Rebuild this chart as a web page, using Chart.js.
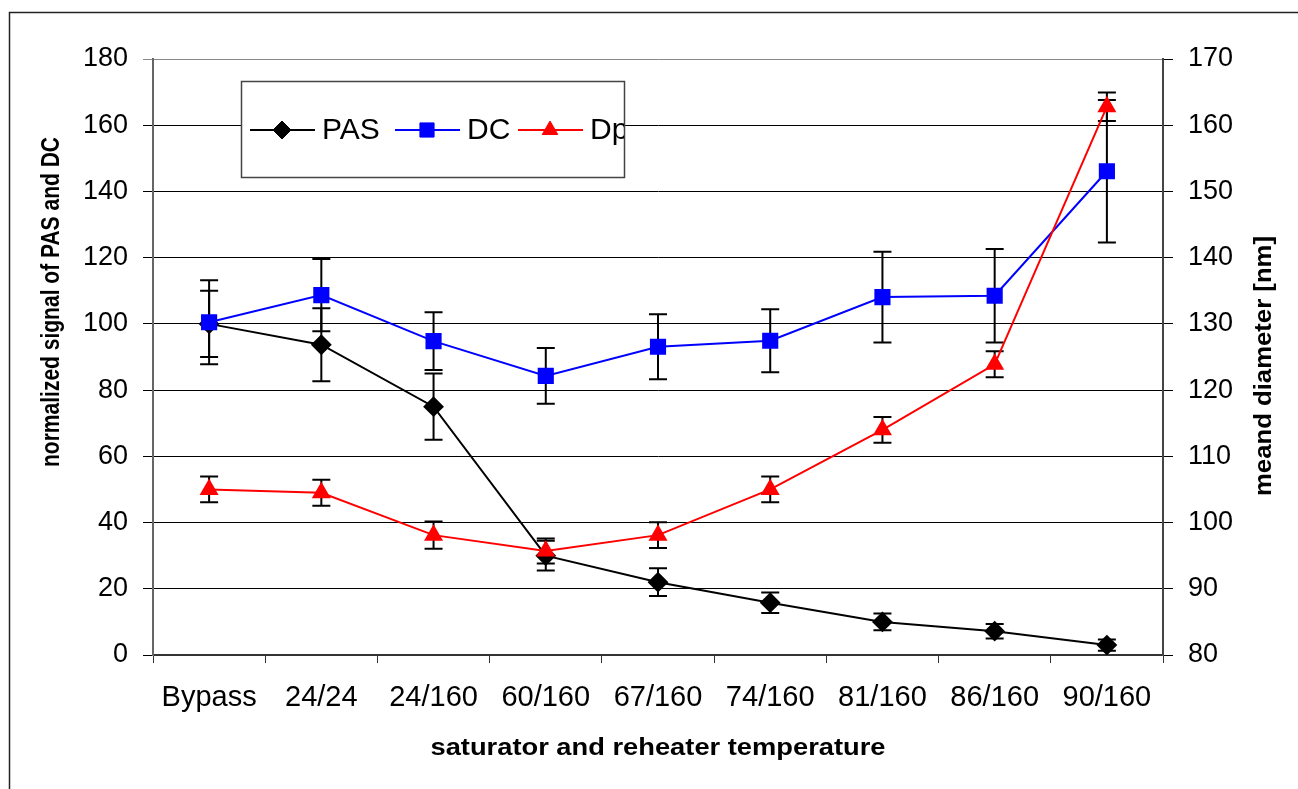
<!DOCTYPE html>
<html>
<head>
<meta charset="utf-8">
<script src="https://cdn.jsdelivr.net/npm/chart.js@4.4.1/dist/chart.umd.min.js"></script>
<style>
  html, body { margin: 0; padding: 0; background: #fff; }
  canvas { display: block; }
</style>
</head>
<body>
<canvas id="chart" width="1298" height="789"></canvas>
<script>
// values
const categories = ['Bypass', '24/24', '24/160', '60/160', '67/160', '74/160', '81/160', '86/160', '90/160'];

const pasValues = [100, 93.7, 75, 30, 22, 15.8, 10, 7.2, 3];
const pasErrors = [10, 11, 10, 4.5, 4.2, 3.1, 2.5, 2.2, 1.7];

const dcValues = [100.5, 108.7, 94.8, 84.3, 93.1, 94.9, 108.1, 108.5, 146.1];
const dcErrors = [12.7, 10.9, 8.7, 8.4, 9.8, 9.5, 13.7, 14.1, 21.5];

const dpValues = [105, 104.5, 98.1, 95.7, 98.1, 105, 114, 123.9, 162.8];
const dpErrors = [1.95, 1.95, 2.05, 1.9, 1.95, 1.95, 1.95, 1.95, 2.15];

const leftTicks = [0, 20, 40, 60, 80, 100, 120, 140, 160, 180];
const rightTicks = [80, 90, 100, 110, 120, 130, 140, 150, 160, 170];

const FONT = "'Liberation Sans', Arial, sans-serif";

// error bars, drawn under the lines and markers
const errorBars = {
    id: 'errorBars',
    beforeDatasetsDraw(chart) {
        const ctx = chart.ctx;
        ctx.save();
        ctx.strokeStyle = '#000';
        ctx.lineWidth = 2;
        chart.data.datasets.forEach((ds, di) => {
            const meta = chart.getDatasetMeta(di);
            const yScale = chart.scales[ds.yAxisID];
            ds.errors.forEach((e, i) => {
                const x = meta.data[i].x;
                const yTop = yScale.getPixelForValue(ds.data[i] + e);
                const yBot = yScale.getPixelForValue(ds.data[i] - e);
                ctx.beginPath();
                ctx.moveTo(x, yTop); ctx.lineTo(x, yBot);
                ctx.moveTo(x - 9, yTop); ctx.lineTo(x + 9, yTop);
                ctx.moveTo(x - 9, yBot); ctx.lineTo(x + 9, yBot);
                ctx.stroke();
            });
        });
        ctx.restore();
    }
};

// text drawn to a given length along its direction
function fitText(ctx, text, x, y, angle, length) {
    ctx.save();
    ctx.translate(x, y);
    ctx.rotate(angle);
    const w = ctx.measureText(text).width;
    ctx.scale(length / w, 1);
    ctx.fillText(text, 0, 0);
    ctx.restore();
}

// frame, legend box and axis titles
const decorations = {
    id: 'decorations',
    beforeDraw(chart) {
        const ctx = chart.ctx;
        ctx.save();
        ctx.fillStyle = '#fff';
        ctx.fillRect(0, 0, chart.width, chart.height);
        ctx.restore();
    },
    afterDraw(chart) {
        const ctx = chart.ctx;
        ctx.save();

        // outer frame
        ctx.strokeStyle = '#222';
        ctx.lineWidth = 1.5;
        ctx.beginPath();
        ctx.moveTo(9.5, chart.height + 2);
        ctx.lineTo(9.5, 12.5);
        ctx.lineTo(chart.width + 2, 12.5);
        ctx.stroke();

        // axis titles
        ctx.fillStyle = '#000';
        ctx.textAlign = 'center';
        ctx.textBaseline = 'middle';
        ctx.font = 'bold 23px ' + FONT;
        fitText(ctx, 'saturator and reheater temperature', 658, 749, 0, 455);
        fitText(ctx, 'meand diameter [nm]', 1265, 366, -Math.PI / 2, 260);
        ctx.font = 'bold 25px ' + FONT;
        fitText(ctx, 'normalized signal of PAS and DC', 52, 302, -Math.PI / 2, 330);

        // legend
        const box = { x: 241, y: 81, w: 383, h: 96 };
        ctx.fillStyle = '#fff';
        ctx.fillRect(box.x, box.y, box.w, box.h);
        ctx.strokeStyle = '#444';
        ctx.lineWidth = 1.5;
        ctx.strokeRect(box.x + 0.5, box.y + 0.5, box.w, box.h);
        ctx.save();
        ctx.beginPath();
        ctx.rect(box.x + 1, box.y + 1, box.w - 1, box.h - 1);
        ctx.clip();
        const cy = 130;
        const starts = [250, 395, 518];
        chart.data.datasets.forEach((ds, k) => {
            const x0 = starts[k];
            ctx.strokeStyle = ds.borderColor;
            ctx.lineWidth = 2;
            ctx.beginPath();
            ctx.moveTo(x0, cy);
            ctx.lineTo(x0 + 65, cy);
            ctx.stroke();
            ctx.fillStyle = ds.pointBackgroundColor;
            ctx.strokeStyle = ds.pointBorderColor;
            ctx.lineWidth = 1;
            Chart.helpers.drawPoint(ctx, { pointStyle: ds.pointStyle, radius: ds.pointRadius, borderWidth: 1 }, x0 + 32, cy);
            ctx.fillStyle = '#000';
            ctx.textAlign = 'left';
            ctx.textBaseline = 'middle';
            ctx.font = '30px ' + FONT;
            ctx.fillText(ds.label, x0 + 72, cy + 1);
        });
        ctx.restore();

        ctx.restore();
    }
};

const chart = new Chart(document.getElementById('chart'), {
    type: 'line',
    data: {
        labels: categories,
        datasets: [
            {
                label: 'PAS', data: pasValues, errors: pasErrors, yAxisID: 'y',
                borderColor: '#000', borderWidth: 2, pointStyle: 'rectRot', pointRadius: 9,
                pointBackgroundColor: '#000', pointBorderColor: '#000', order: 2
            },
            {
                label: 'DC', data: dcValues, errors: dcErrors, yAxisID: 'y',
                borderColor: '#0000ff', borderWidth: 2, pointStyle: 'rect', pointRadius: 10,
                pointBackgroundColor: '#0000ff', pointBorderColor: '#0000ff', order: 1
            },
            {
                label: 'Dp', data: dpValues, errors: dpErrors, yAxisID: 'y1',
                borderColor: '#ff0000', borderWidth: 2, pointStyle: 'triangle', pointRadius: 9,
                pointBackgroundColor: '#ff0000', pointBorderColor: '#ff0000', order: 0
            }
        ]
    },
    options: {
        responsive: false,
        animation: false,
        layout: { padding: { top: 59, left: 0, right: 0, bottom: 0 } },
        plugins: { legend: { display: false }, tooltip: { enabled: false } },
        scales: {
            x: {
                offset: true,
                afterFit(s) { s.height = 134; },
                grid: { offset: true, drawOnChartArea: false, drawTicks: true, tickLength: 8, color: '#333', lineWidth: 1 },
                border: { color: '#333', width: 2 },
                ticks: { color: '#000', padding: 18, font: { family: FONT, size: 29 }, maxRotation: 0, autoSkip: false }
            },
            y: {
                position: 'left',
                min: leftTicks[0], max: leftTicks[leftTicks.length - 1],
                afterFit(s) { s.width = 153; },
                afterBuildTicks(s) { s.ticks = leftTicks.map(v => ({ value: v })); },
                grid: {
                    color: c => (c.tick && c.tick.value === 180 ? '#888' : '#000'),
                    lineWidth: 1, drawTicks: true, tickLength: 10
                },
                border: { color: '#666', width: 2 },
                ticks: { color: '#000', padding: 15, font: { family: FONT, size: 27 } }
            },
            y1: {
                position: 'right',
                min: rightTicks[0], max: rightTicks[rightTicks.length - 1],
                afterFit(s) { s.width = 135; },
                afterBuildTicks(s) { s.ticks = rightTicks.map(v => ({ value: v })); },
                grid: { drawOnChartArea: false, drawTicks: true, tickLength: 10, color: '#000', lineWidth: 1 },
                border: { color: '#444', width: 2 },
                ticks: { color: '#000', padding: 15, font: { family: FONT, size: 27 } }
            }
        }
    },
    plugins: [errorBars, decorations]
});
</script>
</body>
</html>
